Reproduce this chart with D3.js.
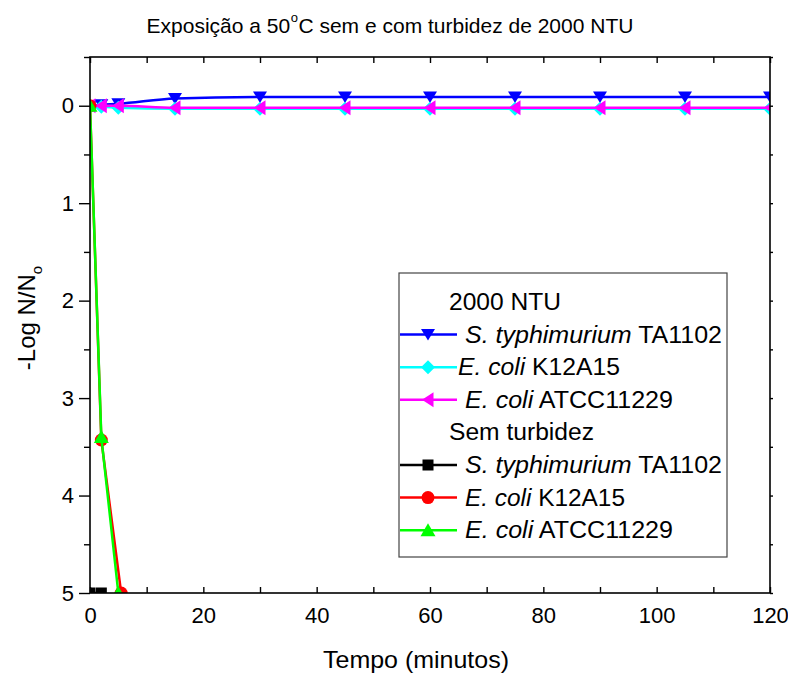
<!DOCTYPE html>
<html><head><meta charset="utf-8">
<script src="https://cdn.jsdelivr.net/npm/d3@7"></script>
<style>
body{margin:0;background:#fff;}
text{font-family:"Liberation Sans",Arial,sans-serif;fill:#000;}
</style></head>
<body><svg id="c" width="788" height="673"></svg>
<script>
// ---- data ----
const titleA = "Exposição a 50";
const titleB = "C sem e com turbidez de 2000 NTU";
const xTicks = [0,20,40,60,80,100,120];
const yTicks = [0,1,2,3,4,5];
const tNTU = [0,2,5,15,30,45,60,75,90,105,120];
const ntuStyph = [0,-0.01,-0.02,-0.075,-0.09,-0.09,-0.09,-0.09,-0.09,-0.09,-0.09];
const ntuK12 = [0.01,0.01,0.02,0.03,0.03,0.03,0.03,0.03,0.03,0.03,0.03];
const ntuATCC = [0,0,0,0.02,0.02,0.02,0.02,0.02,0.02,0.02,0.02];
const tSemStyph = [0,2];
const semStyph = [5,5];
const tSemK12 = [0,2,5.5];
const semK12 = [0,3.43,5.0];
const tSemATCC = [0,2,5];
const semATCC = [0,3.40,5.0];

const series = [
  {t:tNTU, v:ntuStyph, color:"#0000ff", sym:"down", smooth:true},
  {t:tNTU, v:ntuK12, color:"#00ffff", sym:"diamond", smooth:true},
  {t:tNTU, v:ntuATCC, color:"#ff00ff", sym:"left", smooth:true},
  {t:tSemStyph, v:semStyph, color:"#000000", sym:"square"},
  {t:tSemK12, v:semK12, color:"#ff0000", sym:"circle"},
  {t:tSemATCC, v:semATCC, color:"#00ff00", sym:"up"}
];

const L=90,R=770,T=57,B=593;
const svg=d3.select("#c");
const x=d3.scaleLinear().domain([0,120]).range([L,R]);
const y=d3.scaleLinear().domain([-0.5,5]).range([T,B]);

svg.append("defs").append("clipPath").attr("id","clip")
  .append("rect").attr("x",L).attr("y",T).attr("width",R-L).attr("height",B-T);

function fit(t,w){ t.attr("textLength",w).attr("lengthAdjust","spacingAndGlyphs"); }

function sym(g,type,color){
  if(type==="circle") g.append("circle").attr("r",6.5).attr("fill",color);
  else if(type==="square") g.append("rect").attr("x",-5.5).attr("y",-5.5).attr("width",11).attr("height",11).attr("fill",color);
  else {
    let pts;
    if(type==="down") pts=[[-7,-5.5],[7,-5.5],[0,6]];
    else if(type==="up") pts=[[-7.5,6],[7.5,6],[0,-7]];
    else if(type==="left") pts=[[5.5,-7.5],[5.5,7.5],[-6,0]];
    else pts=[[0,-7],[7,0],[0,7],[-7,0]];
    g.append("polygon").attr("points",pts.map(p=>p.join(",")).join(" ")).attr("fill",color);
  }
}

const plot=svg.append("g").attr("clip-path","url(#clip)");
series.forEach(s=>{
  const data=s.t.map((t,i)=>[t,s.v[i]]);
  const line=d3.line().x(d=>x(d[0])).y(d=>y(d[1])).curve(s.smooth?d3.curveMonotoneX:d3.curveLinear);
  plot.append("path").datum(data).attr("d",line).attr("fill","none")
    .attr("stroke",s.color).attr("stroke-width",2.5);
  data.forEach(d=>{
    const g=plot.append("g").attr("transform",`translate(${x(d[0])},${y(d[1])})`);
    sym(g,s.sym,s.color);
  });
});

// frame
svg.append("rect").attr("x",L).attr("y",T).attr("width",R-L).attr("height",B-T)
  .attr("fill","none").attr("stroke","#000").attr("stroke-width",1.6);

// x axis (ticks inside, bottom and top)
const gx=svg.append("g").attr("transform",`translate(0,${B})`)
  .call(d3.axisBottom(x).tickValues(xTicks).tickSize(-6).tickPadding(14).tickFormat(d3.format("d")));
gx.select(".domain").remove();
gx.selectAll(".tick line").attr("stroke","#000").attr("stroke-width",1.4);
gx.selectAll("text").attr("font-size",22).attr("font-family","Liberation Sans, Arial").attr("fill","#000");
svg.append("g").attr("transform",`translate(0,${B})`).call(d3.axisBottom(x).tickValues(d3.range(10,120,20)).tickSize(-6).tickFormat(""))
  .call(g=>g.select(".domain").remove()).selectAll("line").attr("stroke-width",1.4);
svg.append("g").attr("transform",`translate(0,${T})`).call(d3.axisTop(x).tickValues(d3.range(0,121,10)).tickSize(-6).tickFormat(""))
  .call(g=>g.select(".domain").remove()).selectAll("line").attr("stroke-width",1.4);

// y axis (ticks outside on left)
const gy=svg.append("g").attr("transform",`translate(${L},0)`)
  .call(d3.axisLeft(y).tickValues(yTicks).tickSize(11).tickPadding(5).tickFormat(d3.format("d")));
gy.select(".domain").remove();
gy.selectAll(".tick line").attr("stroke-width",1.4);
gy.selectAll("text").attr("font-size",22).attr("font-family","Liberation Sans, Arial").attr("fill","#000");
svg.append("g").attr("transform",`translate(${L},0)`)
  .call(d3.axisLeft(y).tickValues(d3.range(-0.5,5,1)).tickSize(6).tickFormat(""))
  .call(g=>g.select(".domain").remove()).selectAll("line").attr("stroke-width",1.4);
svg.append("g").attr("transform",`translate(${R},0)`)
  .call(d3.axisRight(y).tickValues(d3.range(-0.5,5.01,0.5)).tickSize(3).tickFormat(""))
  .call(g=>g.select(".domain").remove()).selectAll("line").attr("stroke-width",1.4);

// title: built as three separate pieces
const tg=svg.append("g");
const tA=tg.append("text").attr("x",147).attr("y",33).attr("font-size",21).text(titleA);
const wA=tA.node().getComputedTextLength();
const tO=tg.append("text").attr("x",147+wA+0.5).attr("y",22).attr("font-size",13).text("o");
const wO=tO.node().getComputedTextLength();
const tB=tg.append("text").attr("x",147+wA+wO+1).attr("y",33).attr("font-size",21).text(titleB);
const total=wA+wO+1+tB.node().getComputedTextLength();
tg.attr("transform",`translate(${(486-total)/2},0)`);

// axis titles
const xt=svg.append("text").attr("x",416).attr("y",668).attr("text-anchor","middle").attr("font-size",24).text("Tempo (minutos)");
fit(xt,186);
const yt=svg.append("text").attr("transform","translate(35,318) rotate(-90)").attr("text-anchor","middle").attr("font-size",24);
yt.append("tspan").text("-Log N/N");
yt.append("tspan").attr("dy",7).attr("font-size",15).text("o");

// legend
const lg=svg.append("g");
lg.append("rect").attr("x",399).attr("y",273).attr("width",328).attr("height",284)
  .attr("fill","#fff").attr("stroke","#444").attr("stroke-width",1.2);
const legendRows=[
  {head:"2000 NTU", w:112},
  {s:0, it:"S. typhimurium", rest:" TA1102", w:257},
  {s:1, it:"E. coli", rest:" K12A15", tx:458, w:162},
  {s:2, it:"E. coli", rest:" ATCC11229", w:208},
  {head:"Sem turbidez", w:145},
  {s:3, it:"S. typhimurium", rest:" TA1102", w:257},
  {s:4, it:"E. coli", rest:" K12A15", w:160},
  {s:5, it:"E. coli", rest:" ATCC11229", w:208}
];
legendRows.forEach((r,i)=>{
  const cy=302+i*32.6;
  if(r.head){
    const t=lg.append("text").attr("x",449).attr("y",cy+8).attr("font-size",23).text(r.head);
    fit(t,r.w);
    return;
  }
  const s=series[r.s];
  lg.append("line").attr("x1",400).attr("x2",457).attr("y1",cy).attr("y2",cy)
    .attr("stroke",s.color).attr("stroke-width",2.5);
  const g=lg.append("g").attr("transform",`translate(428,${cy})`);
  sym(g,s.sym,s.color);
  const t=lg.append("text").attr("x",r.tx||465).attr("y",cy+8).attr("font-size",23);
  t.append("tspan").attr("font-style","italic").text(r.it);
  t.append("tspan").text(r.rest);
  fit(t,r.w);
});
</script></body></html>
